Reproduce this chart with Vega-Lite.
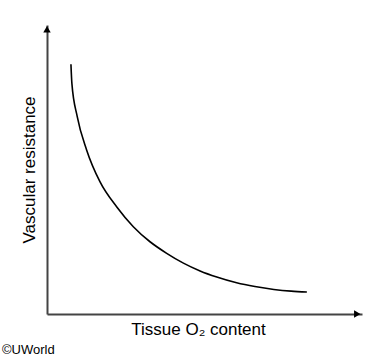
{
  "$schema": "https://vega.github.io/schema/vega-lite/v6.json",
  "width": 315,
  "height": 289,
  "autosize": {"type": "none"},
  "padding": {"left": 47, "top": 25, "right": 23, "bottom": 50},
  "background": "white",
  "config": {
    "view": {"stroke": null},
    "font": "Liberation Sans"
  },
  "title": {
    "text": "©UWorld",
    "orient": "bottom",
    "anchor": "start",
    "frame": "group",
    "dx": -45,
    "offset": 7,
    "fontSize": 13,
    "fontWeight": "normal",
    "color": "black",
    "font": "Liberation Sans"
  },
  "datasets": {
    "curve": [
      {"o2": 7.6, "resistance": 86.4},
      {"o2": 7.9, "resistance": 79.8},
      {"o2": 9.6, "resistance": 68.3},
      {"o2": 12.6, "resistance": 56.7},
      {"o2": 16.8, "resistance": 45.8},
      {"o2": 22.1, "resistance": 37.1},
      {"o2": 27.4, "resistance": 30.2},
      {"o2": 32.7, "resistance": 25.0},
      {"o2": 38.0, "resistance": 21.0},
      {"o2": 43.3, "resistance": 17.6},
      {"o2": 48.6, "resistance": 14.9},
      {"o2": 53.9, "resistance": 12.8},
      {"o2": 60.2, "resistance": 10.8},
      {"o2": 66.0, "resistance": 9.5},
      {"o2": 72.0, "resistance": 8.5},
      {"o2": 77.5, "resistance": 7.9},
      {"o2": 82.5, "resistance": 7.6}
    ],
    "arrows": [
      {"o2": 0, "resistance": 98.5, "shape": "triangle-up"},
      {"o2": 98.5, "resistance": 0, "shape": "triangle-right"}
    ]
  },
  "layer": [
    {
      "data": {"name": "curve"},
      "mark": {"type": "line", "interpolate": "monotone", "color": "black", "strokeWidth": 1.6},
      "encoding": {
        "x": {
          "field": "o2", "type": "quantitative",
          "scale": {"domain": [0, 100], "nice": false, "zero": false},
          "axis": {
            "title": "Tissue O₂ content",
            "titleFontSize": 17, "titleFontWeight": "normal", "titleColor": "black",
            "titlePadding": 7,
            "titleX": 151, "titleAlign": "center",
            "labels": false, "ticks": false, "grid": false,
            "domainColor": "#444", "domainWidth": 2
          }
        },
        "y": {
          "field": "resistance", "type": "quantitative",
          "scale": {"domain": [0, 100], "nice": false, "zero": false},
          "axis": {
            "title": "Vascular resistance",
            "titleFontSize": 17, "titleFontWeight": "normal", "titleColor": "black",
            "titlePadding": 9,
            "labels": false, "ticks": false, "grid": false,
            "domainColor": "#444", "domainWidth": 2
          }
        }
      }
    },
    {
      "data": {"name": "arrows"},
      "mark": {"type": "point", "filled": true, "color": "black", "opacity": 1, "size": 55},
      "encoding": {
        "x": {"field": "o2", "type": "quantitative"},
        "y": {"field": "resistance", "type": "quantitative"},
        "shape": {"field": "shape", "type": "nominal", "scale": null, "legend": null}
      }
    }
  ]
}
